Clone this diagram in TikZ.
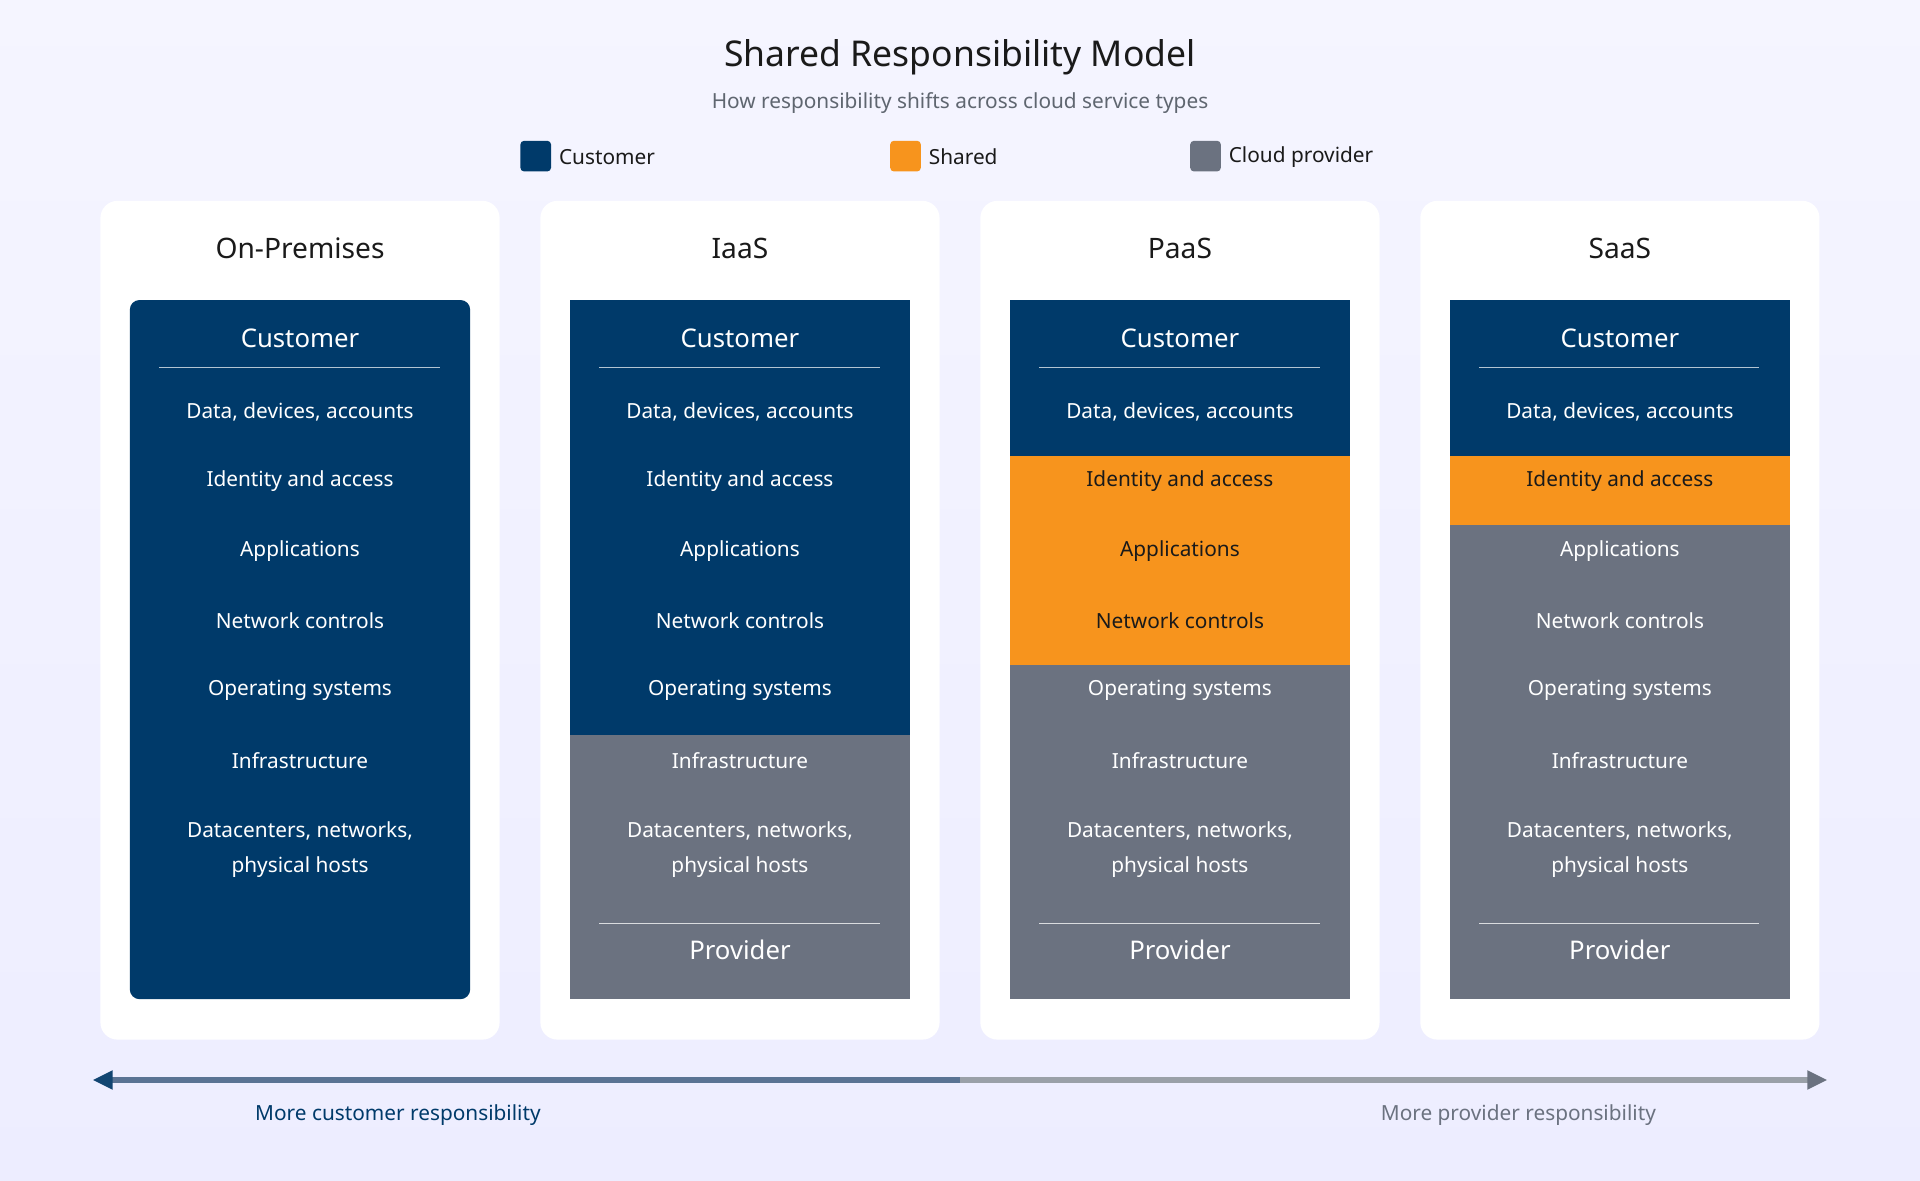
\documentclass[tikz,border=0pt]{standalone}
\usepackage{fontspec}
\setmainfont{Noto Sans}
\usetikzlibrary{arrows.meta,calc}
\definecolor{navy}{HTML}{003A6A}
\definecolor{shared}{HTML}{F7941D}
\definecolor{prov}{HTML}{6B7280}
\definecolor{ink}{HTML}{1A1A1A}
\definecolor{subgray}{HTML}{5F6670}
\definecolor{arrowL}{HTML}{5A7394}
\definecolor{arrowR}{HTML}{9AA0A8}
\tikzset{
  rowtext/.style={font=\fontsize{17}{29}\selectfont, align=center},
  bandhead/.style={font=\fontsize{21}{24}\selectfont\bfseries, text=white},
  colhead/.style={font=\fontsize{23}{26}\selectfont\bfseries, text=ink},
  legtext/.style={font=\fontsize{17}{20}\selectfont, text=ink, anchor=west},
  legbox/.style={minimum size=25pt, inner sep=0pt, rounded corners=3pt},
}
\begin{document}
\begin{tikzpicture}[x=1pt, y=-1pt]
  \useasboundingbox (0,0) rectangle (1568,964);
  \shade[top color=blue!4!white, bottom color=blue!7!white] (0,0) rectangle (1568,964);
  % title
  \node[font=\fontsize{29}{32}\selectfont\bfseries, text=ink] (title) at (784,47) {Shared Responsibility Model};
  \node[font=\fontsize{17}{20}\selectfont, text=subgray] (subtitle) at (784,84) {How responsibility shifts across cloud service types};
  % legend
  \node[legbox, fill=navy] (lc) at (437.5,127.5) {};
  \node[legtext] (lct) at (453,128) {Customer};
  \node[legbox, fill=shared] (ls) at (739.5,127.5) {};
  \node[legtext] (lst) at (755,128) {Shared};
  \node[legbox, fill=prov] (lp) at (984.5,127.5) {};
  \node[legtext] (lpt) at (1000,128) {Cloud provider};
  % columns
  \foreach \i/\name/\c/\s in {0/On-Premises/7/7, 1/IaaS/5/5, 2/PaaS/1/4, 3/SaaS/1/2} {
    \pgfmathsetmacro\xl{82+359.3*\i}
    \pgfmathsetmacro\xc{\xl+163}
    \fill[white, rounded corners=14pt] (\xl,164) rectangle ++(326,685);
    \node[colhead] (head\i) at (\xc,203) {\name};
    \ifnum\i=0
      \fill[navy, rounded corners=8pt] (\xl+24,245) rectangle (\xl+302,816);
    \else
      \fill[navy] (\xl+24,245) rectangle (\xl+302,372+57*\c-57);
      \fill[shared] (\xl+24,372+57*\c-57) rectangle (\xl+302,372+57*\s-57);
      \fill[prov] (\xl+24,372+57*\s-57) rectangle (\xl+302,816);
      \draw[white!75!prov, line width=1pt] (\xl+48,754) -- (\xl+277,754);
      \node[bandhead] (prov\i) at (\xc,776) {Provider};
    \fi
    \node[bandhead] (cust\i) at (\xc,276) {Customer};
    \draw[white!70!navy, line width=1pt] (\xl+48,300) -- (\xl+277,300);
    \foreach \t [count=\k] in {{Data, devices, accounts}, Identity and access, Applications,
        Network controls, Operating systems, Infrastructure} {
      \ifnum\k>\c \ifnum\k>\s \def\tc{white}\else\def\tc{ink}\fi \else \def\tc{white}\fi
      \node[rowtext, text=\tc] (r\i-\k) at (\xc,336+57*\k-57) {\t};
    }
    \node[rowtext, text=white] (r\i-7) at (\xc,694) {Datacenters, networks,\\physical hosts};
  }
  % responsibility arrow
  \coordinate (aL) at (76,882);
  \coordinate (aM) at (784,882);
  \coordinate (aR) at (1492,882);
  \draw[arrowL, line width=5pt] ($(aL)+(12,0)$) -- (aM);
  \draw[arrowR, line width=5pt] (aM) -- ($(aR)+(-12,0)$);
  \fill[navy!80!arrowL] (aL) -- ++(16,-8) -- ++(0,16) -- cycle;
  \fill[prov] (aR) -- ++(-16,-8) -- ++(0,16) -- cycle;
  \node[font=\fontsize{17}{20}\selectfont\bfseries, text=navy] (moreC) at (325,911) {More customer responsibility};
  \node[font=\fontsize{17}{20}\selectfont\bfseries, text=prov] (moreP) at (1240,911) {More provider responsibility};
\end{tikzpicture}
\end{document}
